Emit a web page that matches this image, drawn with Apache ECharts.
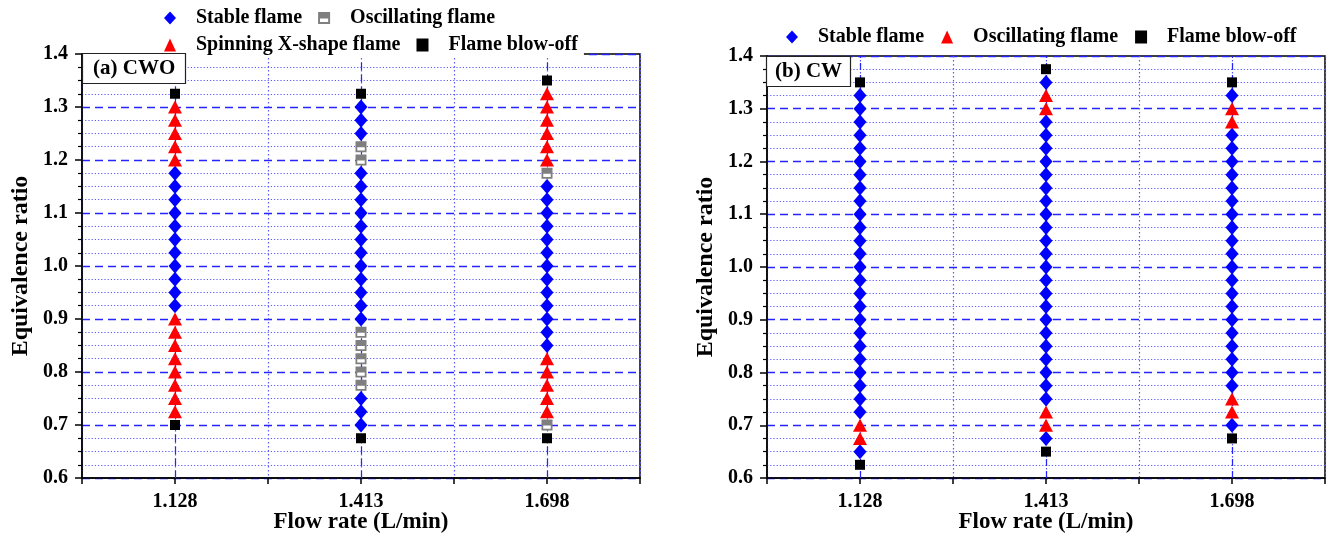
<!DOCTYPE html>
<html>
<head>
<meta charset="utf-8">
<script src="https://cdn.jsdelivr.net/npm/echarts@6/dist/echarts.min.js"></script>
<style>
  html, body { margin: 0; padding: 0; background: #fff; }
  #wrap { position: relative; width: 1329px; height: 536px; }
  #cwo { position: absolute; left: 0; top: 0; width: 664px; height: 536px; }
  #cw { position: absolute; left: 664px; top: 0; width: 665px; height: 536px; }
</style>
</head>
<body>
<div id="wrap"><div id="cwo"></div><div id="cw"></div></div>
<script>
// Flow rates tested (L/min); each gets its own column of equivalence ratios
const flowRates = ['1.128', '1.413', '1.698'];

// (a) CWO burner: equivalence ratios per flow rate, grouped by observed flame mode
const cwoStable = [
  [0.925, 0.95, 0.975, 1.0, 1.025, 1.05, 1.075, 1.1, 1.125, 1.15, 1.175],
  [0.7, 0.725, 0.75, 0.9, 0.925, 0.95, 0.975, 1.0, 1.025, 1.05, 1.075, 1.1, 1.125, 1.15, 1.175, 1.25, 1.275, 1.3],
  [0.85, 0.875, 0.9, 0.925, 0.95, 0.975, 1.0, 1.025, 1.05, 1.075, 1.1, 1.125, 1.15]
];
const cwoOscillating = [
  [],
  [0.775, 0.8, 0.825, 0.85, 0.875, 1.2, 1.225],
  [0.7, 1.175]
];
const cwoSpinning = [
  [0.725, 0.75, 0.775, 0.8, 0.825, 0.85, 0.875, 0.9, 1.2, 1.225, 1.25, 1.275, 1.3],
  [],
  [0.725, 0.75, 0.775, 0.8, 0.825, 1.2, 1.225, 1.25, 1.275, 1.3, 1.325]
];
const cwoBlowOff = [
  [0.7, 1.325],
  [0.675, 1.325],
  [0.675, 1.35]
];

// (b) CW burner
const cwStable = [
  [0.65, 0.725, 0.75, 0.775, 0.8, 0.825, 0.85, 0.875, 0.9, 0.925, 0.95, 0.975, 1.0, 1.025, 1.05, 1.075, 1.1, 1.125, 1.15, 1.175, 1.2, 1.225, 1.25, 1.275, 1.3, 1.325],
  [0.675, 0.75, 0.775, 0.8, 0.825, 0.85, 0.875, 0.9, 0.925, 0.95, 0.975, 1.0, 1.025, 1.05, 1.075, 1.1, 1.125, 1.15, 1.175, 1.2, 1.225, 1.25, 1.275, 1.35],
  [0.7, 0.775, 0.8, 0.825, 0.85, 0.875, 0.9, 0.925, 0.95, 0.975, 1.0, 1.025, 1.05, 1.075, 1.1, 1.125, 1.15, 1.175, 1.2, 1.225, 1.25, 1.325]
];
const cwOscillating = [
  [0.675, 0.7],
  [0.7, 0.725, 1.3, 1.325],
  [0.725, 0.75, 1.275, 1.3]
];
const cwBlowOff = [
  [0.625, 1.35],
  [0.65, 1.375],
  [0.675, 1.35]
];

const FONT = '"Liberation Serif", "Times New Roman", serif';
const BLUE_MAJOR = '#2424ff';
const BLUE_MINOR = '#5a5aff';

// Each flow rate sits in the middle of its own slot on the x axis (slots of width 2)
const slotOf = i => 2 * i + 1;
const toPoints = groups => groups.flatMap((ys, i) => ys.map(y => [slotOf(i), y]));

// Half-filled square: grey frame with the upper half filled (lower half is a hole)
const HALF_SQUARE = 'path://M0,0 L10,0 L10,10 L0,10 Z M1.6,5.4 L1.6,8.4 L8.4,8.4 L8.4,5.4 Z';

const markerStyles = {
  stable: { symbol: 'diamond', symbolSize: [13, 15], itemStyle: { color: '#0000ff', opacity: 1 } },
  oscGrey: { symbol: HALF_SQUARE, symbolSize: 11, itemStyle: { color: '#7f7f7f', opacity: 1 } },
  spinning: { symbol: 'triangle', symbolSize: [14, 13], itemStyle: { color: '#ff0000', opacity: 1 } },
  oscRed: { symbol: 'triangle', symbolSize: [14, 13], itemStyle: { color: '#ff0000', opacity: 1 } },
  blowOff: { symbol: 'rect', symbolSize: 10, itemStyle: { color: '#000000', opacity: 1 } }
};

function scatter(name, groups, style, extra) {
  return Object.assign({
    type: 'scatter',
    name: name,
    data: toPoints(groups),
    symbol: style.symbol,
    symbolSize: style.symbolSize,
    itemStyle: style.itemStyle,
    z: 4,
    emphasis: { disabled: true }
  }, extra || {});
}

function baseOption(cfg) {
  const textBold = { fontFamily: FONT, fontWeight: 'bold', color: '#000' };
  return {
    animation: false,
    backgroundColor: '#fff',
    title: {
      text: cfg.title,
      left: cfg.titleLeft,
      top: cfg.titleTop,
      padding: cfg.titlePadding,
      borderColor: '#222',
      borderWidth: 1.2,
      backgroundColor: '#fff',
      textStyle: Object.assign({ fontSize: 21 }, textBold)
    },
    legend: cfg.legends.map(l => Object.assign({
      orient: 'horizontal',
      itemWidth: 12,
      itemHeight: 13,
      itemGap: 16,
      selectedMode: false,
      backgroundColor: '#fff',
      formatter: name => '   ' + name,
      textStyle: Object.assign({ fontSize: 20 }, textBold)
    }, l)),
    grid: {
      left: cfg.grid.left, right: cfg.grid.right, top: cfg.grid.top, bottom: cfg.grid.bottom,
      outerBoundsMode: 'none',
      containLabel: false,
      show: true, borderColor: '#000', borderWidth: 1.5, backgroundColor: 'transparent'
    },
    xAxis: {
      type: 'value',
      min: 0,
      max: flowRates.length * 2,
      interval: 1,
      name: 'Flow rate (L/min)',
      nameLocation: 'middle',
      nameGap: 33,
      nameMoveOverlap: false,
      nameTextStyle: Object.assign({ fontSize: 23 }, textBold),
      axisLine: { show: true, onZero: false, lineStyle: { color: '#000', width: 1.5 } },
      axisTick: { show: true, inside: false, length: 6, lineStyle: { color: '#000', width: 1.5 } },
      axisLabel: Object.assign({
        fontSize: 20,
        margin: 14,
        formatter: v => (v % 2 === 1 ? flowRates[(v - 1) / 2] : '')
      }, textBold),
      splitLine: { show: true, lineStyle: { color: BLUE_MINOR, type: [1.5, 2.5], width: 1.2 } }
    },
    yAxis: {
      type: 'value',
      min: 0.6,
      max: 1.4,
      interval: 0.1,
      name: 'Equivalence ratio',
      nameLocation: 'middle',
      nameGap: cfg.yNameGap,
      nameMoveOverlap: false,
      nameRotate: 90,
      nameTextStyle: Object.assign({ fontSize: 24 }, textBold),
      axisLine: { show: true, lineStyle: { color: '#000', width: 1.5 } },
      axisTick: { show: true, inside: false, length: 7, lineStyle: { color: '#000', width: 1.5 } },
      minorTick: { show: true, splitNumber: 4, length: 4, lineStyle: { color: '#000', width: 1.2 } },
      axisLabel: Object.assign({
        fontSize: 20,
        margin: 14,
        formatter: v => v.toFixed(1)
      }, textBold),
      splitLine: { show: true, lineStyle: { color: BLUE_MAJOR, type: [8, 5], width: 1.3 } },
      minorSplitLine: { show: true, lineStyle: { color: BLUE_MINOR, type: [1.2, 2], width: 1 } }
    },
    series: cfg.series
  };
}

// Vertical dashed guide through each flow-rate column
const columnGuides = {
  silent: true,
  symbol: ['none', 'none'],
  label: { show: false },
  z: 2,
  lineStyle: { color: BLUE_MAJOR, type: [7, 5], width: 1.2 },
  data: flowRates.map((_, i) => ({ xAxis: slotOf(i) }))
};

// (a) CWO
const chartA = echarts.init(document.getElementById('cwo'), null, { renderer: 'canvas' });
chartA.setOption(baseOption({
  title: '(a) CWO',
  titleLeft: 82,
  titleTop: 53,
  titlePadding: [5, 11],
  grid: { left: 82, right: 24, top: 54, bottom: 58 },
  yNameGap: 49,
  legends: [
    { data: ['Stable flame', 'Oscillating flame'], left: 164, top: 6, padding: [2, 4, 2, 0] },
    { data: ['Spinning X-shape flame', 'Flame blow-off'], left: 164, top: 33, padding: [2, 6, 3, 0] }
  ],
  series: [
    scatter('Stable flame', cwoStable, markerStyles.stable, { markLine: columnGuides }),
    // white backing so the open half of the grey marker stays blank
    scatter('oscillating-backing', cwoOscillating,
      { symbol: 'rect', symbolSize: 10, itemStyle: { color: '#fff', opacity: 1 } }, { z: 3, silent: true }),
    scatter('Oscillating flame', cwoOscillating, markerStyles.oscGrey),
    scatter('Spinning X-shape flame', cwoSpinning, markerStyles.spinning),
    scatter('Flame blow-off', cwoBlowOff, markerStyles.blowOff)
  ]
}));

// (b) CW
const chartB = echarts.init(document.getElementById('cw'), null, { renderer: 'canvas' });
chartB.setOption(baseOption({
  title: '(b) CW',
  titleLeft: 102,
  titleTop: 56,
  titlePadding: [5, 9],
  grid: { left: 103, right: 4, top: 56, bottom: 58 },
  yNameGap: 49,
  legends: [
    { data: ['Stable flame', 'Oscillating flame', 'Flame blow-off'], left: 122, top: 27, padding: [0, 0, 0, 0], itemGap: 17 }
  ],
  series: [
    scatter('Stable flame', cwStable, markerStyles.stable, { markLine: columnGuides }),
    scatter('Oscillating flame', cwOscillating, markerStyles.oscRed),
    scatter('Flame blow-off', cwBlowOff, markerStyles.blowOff)
  ]
}));
</script>
</body>
</html>
